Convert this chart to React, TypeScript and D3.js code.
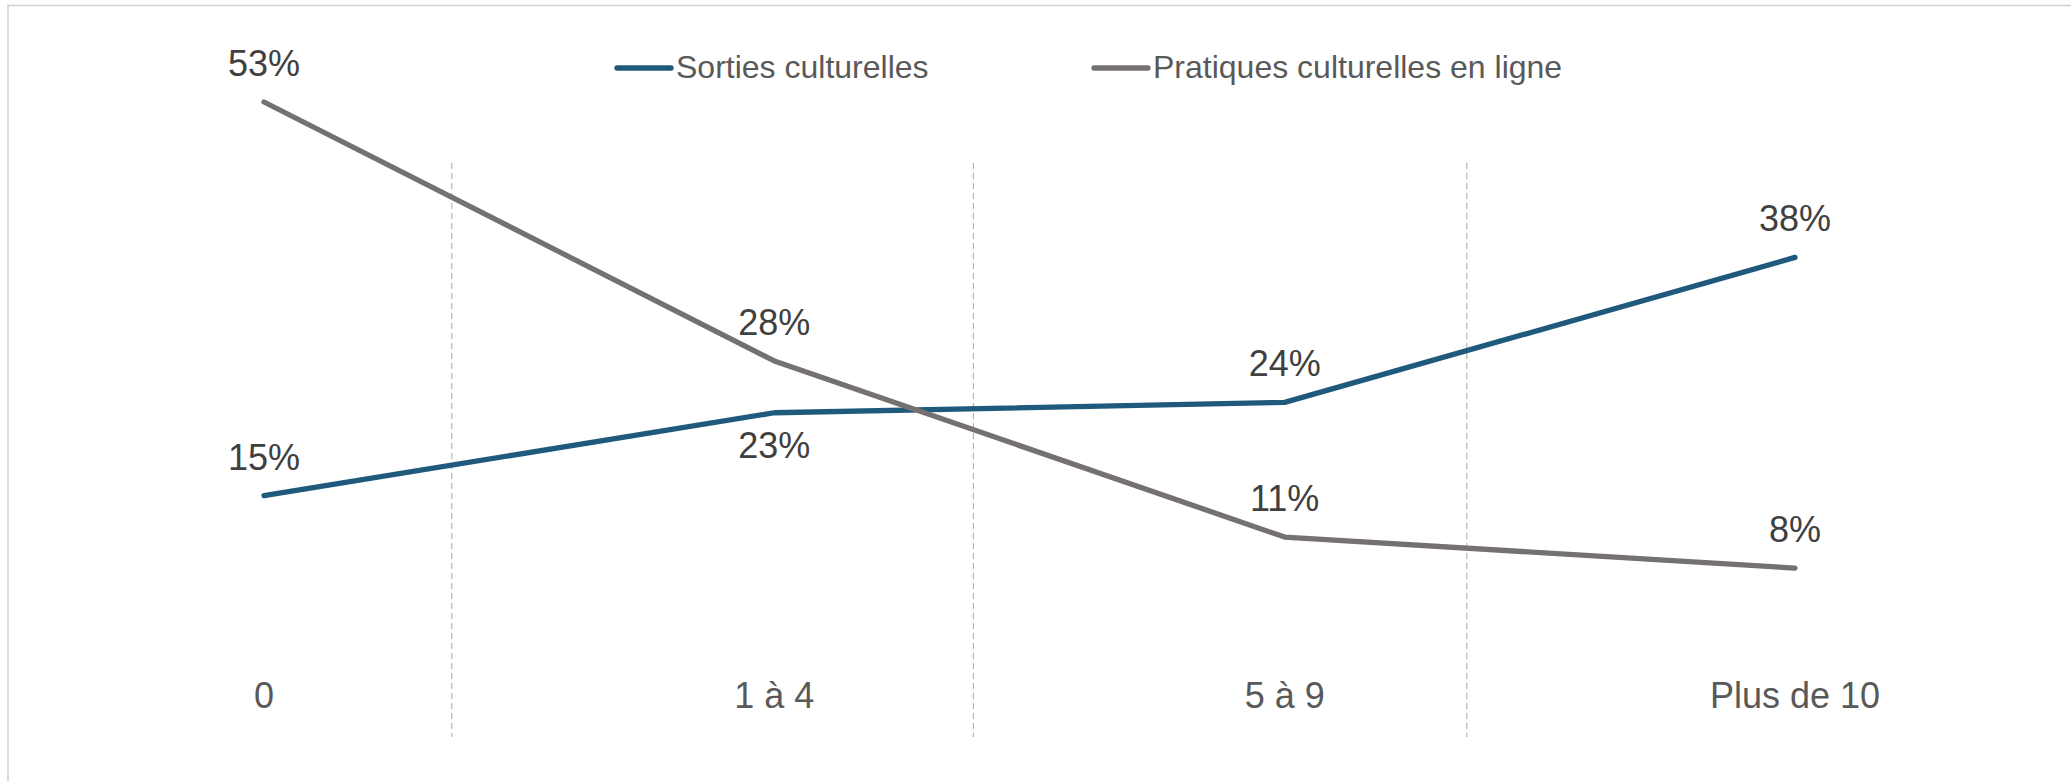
import * as d3 from 'd3';

// Data
const categories = ['0', '1 à 4', '5 à 9', 'Plus de 10'];
const sorties = [0.15, 0.23, 0.24, 0.38];
const pratiques = [0.53, 0.28, 0.11, 0.08];
// label placement per point: above or below
const sortiesLabelPos = ['above', 'below', 'above', 'above'];
const pratiquesLabelPos = ['above', 'above', 'above', 'above'];
// vertical separators, in category units
const separators = [0.368, 1.39, 2.357];

const WIDTH = 2071;
const HEIGHT = 781;
const FONT = '"Liberation Sans", Arial, sans-serif';

const BLUE = '#1F5A7D';
const GREY = '#767171';

const series = [
  { name: 'Sorties culturelles', values: sorties, color: BLUE, pos: sortiesLabelPos, legendX: 617 },
  { name: 'Pratiques culturelles en ligne', values: pratiques, color: GREY, pos: pratiquesLabelPos, legendX: 1094 },
];

export default function App() {
  const x = d3.scalePoint<string>().domain(categories).range([264, 1795]);
  const xLin = d3.scaleLinear().domain([0, categories.length - 1]).range([264, 1795]);
  const y = d3.scaleLinear().domain([0, 0.6]).range([651, 29.5]);

  const line = d3
    .line<number>()
    .x((_, i) => x(categories[i]) ?? 0)
    .y((d) => y(d));

  const fmt = d3.format('.0%');

  return (
    <>
      <style>{`body{margin:0}`}</style>
      <svg width={WIDTH} height={HEIGHT} style={{ display: 'block', fontFamily: FONT }}>
        <rect x={0} y={0} width={WIDTH} height={HEIGHT} fill="#fff" />
        {/* chart border */}
        <rect x={8} y={5.5} width={WIDTH + 10} height={HEIGHT + 10} fill="none" stroke="#d0d0d0" strokeWidth={1.5} />

        {/* separators */}
        {separators.map((s, i) => (
          <line
            key={i}
            x1={xLin(s)}
            x2={xLin(s)}
            y1={163}
            y2={737}
            stroke="#a6a6a6"
            strokeWidth={1}
            strokeDasharray="6,4"
          />
        ))}

        {/* category labels */}
        {categories.map((c) => (
          <text key={c} x={x(c)} y={708} textAnchor="middle" fontSize={36} fill="#595959">
            {c}
          </text>
        ))}

        {/* lines */}
        {series.map((s) => (
          <path
            key={s.name}
            d={line(s.values) ?? ''}
            fill="none"
            stroke={s.color}
            strokeWidth={5.3}
            strokeLinecap="round"
            strokeLinejoin="round"
          />
        ))}

        {/* data labels */}
        {series.map((s) =>
          s.values.map((v, i) => (
            <text
              key={s.name + i}
              x={x(categories[i])}
              y={s.pos[i] === 'above' ? y(v) - 26 : y(v) + 45}
              textAnchor="middle"
              fontSize={36}
              fill="#404040"
            >
              {fmt(v)}
            </text>
          ))
        )}

        {/* legend */}
        {series.map((s) => (
          <g key={s.name} transform={`translate(${s.legendX},68)`}>
            <line x1={0} x2={54} y1={0} y2={0} stroke={s.color} strokeWidth={5.3} strokeLinecap="round" />
            <text x={59} y={10} fontSize={32} fill="#595959">
              {s.name}
            </text>
          </g>
        ))}
      </svg>
    </>
  );
}
